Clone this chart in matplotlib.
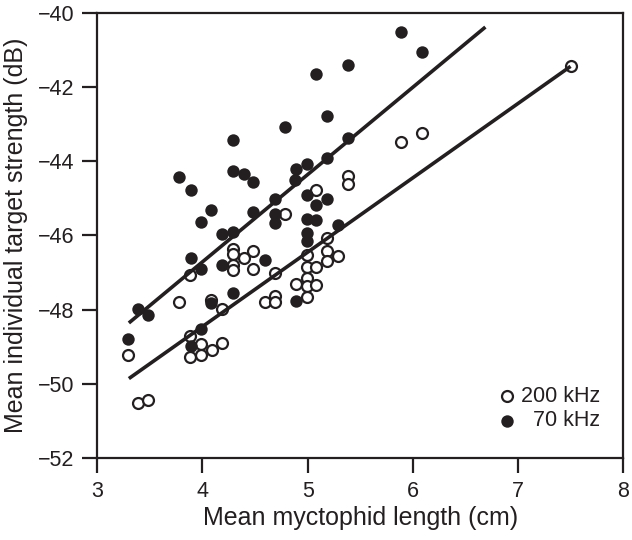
import matplotlib
matplotlib.use("Agg")
import matplotlib.pyplot as plt
import numpy as np

plt.rcParams['font.family'] = ['Liberation Sans', 'DejaVu Sans']
plt.rcParams['font.size'] = 15.5

ink = '#231f20'

# 200 kHz (open circles)
len_200 = [7.50, 6.09, 5.89, 5.38, 5.38, 5.08, 4.78, 5.18, 4.29, 4.29, 4.29, 4.29,
           4.39, 4.48, 4.48, 4.69, 4.99, 5.18, 5.29, 5.18, 4.99, 5.08, 4.89, 4.99,
           4.99, 5.08, 4.99, 4.59, 4.69, 4.69, 3.88, 3.78, 4.08, 4.19, 3.88, 3.99,
           4.09, 4.19, 3.88, 3.99, 3.29, 3.39, 3.48]
ts_200 = [-41.44, -43.23, -43.48, -44.40, -44.62, -44.78, -45.43, -46.06, -46.36, -46.50,
          -46.80, -46.93, -46.61, -46.42, -46.90, -47.00, -46.52, -46.42, -46.55, -46.70,
          -46.86, -46.86, -47.30, -47.15, -47.37, -47.35, -47.66, -47.80, -47.64, -47.80,
          -47.06, -47.80, -47.75, -47.98, -48.72, -48.94, -49.09, -48.90, -49.28, -49.23,
          -49.23, -50.53, -50.44]

# 70 kHz (filled circles)
len_70 = [5.89, 6.09, 5.08, 5.38, 5.18, 4.78, 4.29, 5.38, 3.78, 3.89, 4.29, 4.39,
          4.48, 5.18, 4.99, 4.89, 4.88, 4.08, 3.99, 4.48, 4.69, 4.99, 5.18, 5.08,
          4.69, 4.69, 4.99, 5.08, 4.99, 5.29, 4.19, 4.29, 4.99, 3.89, 3.99, 4.19,
          4.59, 3.39, 3.48, 4.08, 4.29, 4.89, 3.99, 3.89, 3.29]
ts_70 = [-40.50, -41.04, -41.64, -41.39, -42.78, -43.07, -43.43, -43.37, -44.42, -44.78,
         -44.27, -44.33, -44.57, -43.92, -44.06, -44.22, -44.51, -45.31, -45.63, -45.36,
         -45.02, -44.91, -45.03, -45.18, -45.43, -45.67, -45.56, -45.58, -45.94, -45.72,
         -45.97, -45.90, -46.16, -46.61, -46.90, -46.79, -46.66, -47.98, -48.15, -47.82,
         -47.55, -47.78, -48.51, -48.99, -48.79]

# regression lines (end points)
fit_x_70 = [3.30, 6.69]
fit_y_70 = [-48.36, -40.38]
fit_x_200 = [3.30, 7.50]
fit_y_200 = [-49.86, -41.44]

fig = plt.figure(figsize=(6.32, 5.4), dpi=100)
ax = fig.add_axes([0.154, 0.152, 0.832, 0.824])

ax.scatter(len_200, ts_200, s=62, facecolors='white', edgecolors=ink, linewidths=1.6, zorder=2)
ax.scatter(len_70, ts_70, s=80, color=ink, linewidths=0, zorder=3)
ax.plot(fit_x_70, fit_y_70, color=ink, lw=2.6, solid_capstyle='butt', zorder=4)
ax.plot(fit_x_200, fit_y_200, color=ink, lw=2.6, solid_capstyle='butt', zorder=4)

ax.set_xlim(3, 8)
ax.set_ylim(-52, -40)
ax.set_xticks(np.arange(3, 9, 1))
ax.set_yticks(np.arange(-52, -39, 2))
ax.tick_params(direction='out', length=10.5, width=1.6, colors=ink, labelcolor=ink, pad=6)
for sp in ax.spines.values():
    sp.set_linewidth(1.6)
    sp.set_color(ink)

ax.set_xlabel('Mean myctophid length (cm)', color=ink, fontsize=18, labelpad=3)
ax.set_ylabel('Mean individual target strength (dB)', color=ink, fontsize=18, labelpad=7)

# legend drawn by hand so the labels are right aligned
ax.scatter([0.779], [0.139], s=62, facecolors='white', edgecolors=ink, linewidths=1.6,
           transform=ax.transAxes, clip_on=False)
ax.scatter([0.779], [0.083], s=80, color=ink, linewidths=0, transform=ax.transAxes)
ax.text(0.957, 0.139, '200 kHz', transform=ax.transAxes, ha='right', va='center', color=ink)
ax.text(0.957, 0.083, '70 kHz', transform=ax.transAxes, ha='right', va='center', color=ink)

fig.savefig('out.png', dpi=100)
